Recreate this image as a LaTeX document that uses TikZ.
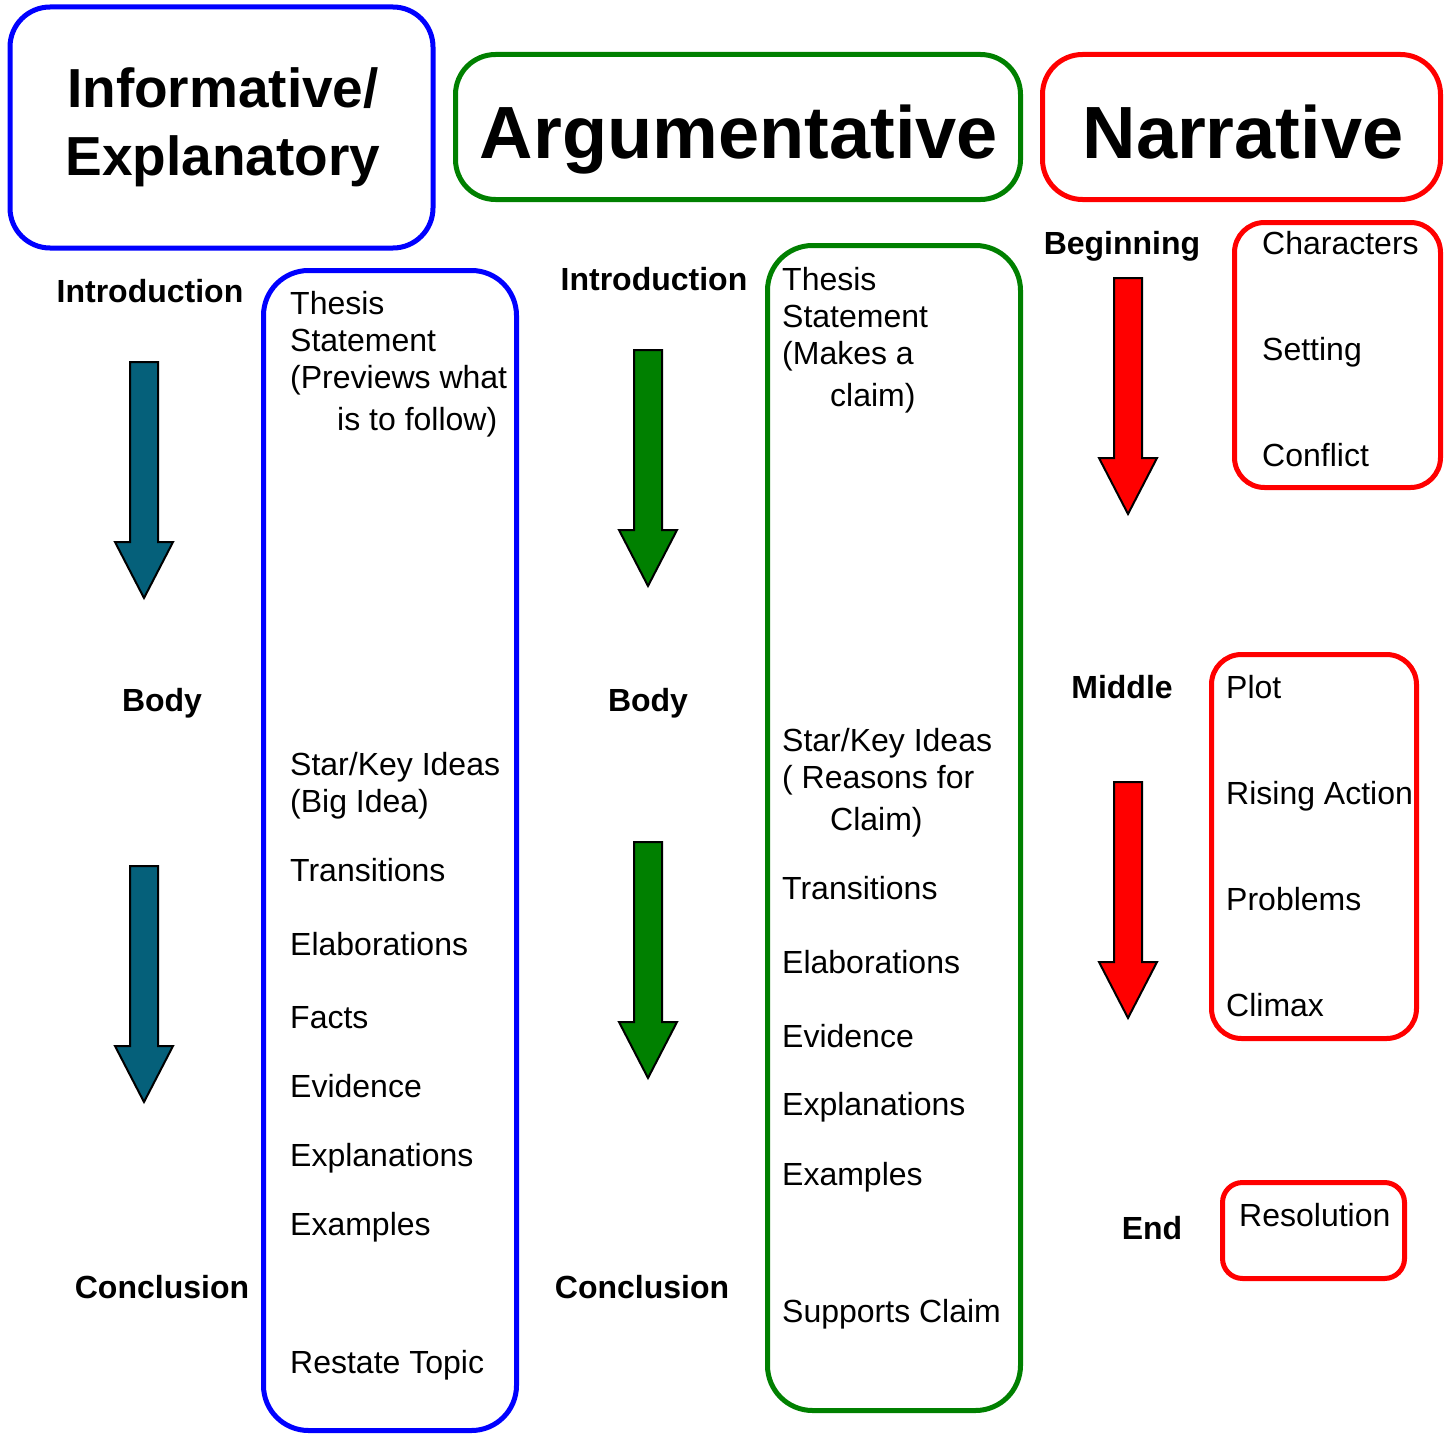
\documentclass[tikz,border=0pt]{standalone}
\usepackage{fontspec}
\setmainfont{Liberation Sans}
\usetikzlibrary{positioning}

\definecolor{infoblue}{RGB}{0,0,255}
\definecolor{arggreen}{RGB}{0,128,0}
\definecolor{narred}{RGB}{255,0,0}
\definecolor{arrowteal}{RGB}{5,96,122}

\tikzset{
  frame/.style={draw, line width=5pt, inner sep=0pt},
  title frame/.style={frame, rounded corners=40pt},
  column frame/.style={frame, rounded corners=45pt},
  group frame/.style={frame, rounded corners=30pt},
  heading/.style={font=\bfseries\fontsize{74}{86}\selectfont, anchor=base, inner sep=0pt},
  part/.style={font=\bfseries\fontsize{32}{37}\selectfont, anchor=base, inner sep=0pt},
  item/.style={font=\fontsize{32}{37}\selectfont, anchor=base west, align=left, inner sep=0pt},
  pics/blockarrow/.style={code={
    \draw[line width=2pt, fill=#1] (-14,0) -- (14,0) -- (14,180) -- (29,180)
      -- (0,236) -- (-29,180) -- (-14,180) -- cycle;
  }},
}

\begin{document}
\begin{tikzpicture}[x=1pt, y=-1pt]
\useasboundingbox (0,0) rectangle (1452,1437);

% headings (multi-line nodes sit on their last baseline)
\node[title frame, draw=infoblue, minimum width=423, minimum height=241] (infobox) at (221.5,127.5) {};
\node[heading, font=\bfseries\fontsize{55}{68}\selectfont, align=center] (infotitle) at (223,175) {Informative/\\Explanatory};
\node[title frame, draw=arggreen, minimum width=565, minimum height=145] (argbox) at (738,127) {};
\node[heading] (argtitle) at (739,158) {Argumentative};
\node[title frame, draw=narred, minimum width=398, minimum height=145] (narbox) at (1241.5,127) {};
\node[heading] (nartitle) at (1243,158) {Narrative};

% informative / explanatory
\node[part] (infointro) at (150,302) {Introduction};
\node[part] (infobody) at (162,711) {Body};
\node[part] (infoconcl) at (162,1298) {Conclusion};
\pic at (144,362) {blockarrow=arrowteal};
\pic at (144,866) {blockarrow=arrowteal};
\node[column frame, draw=infoblue, minimum width=253, minimum height=1160] (infocol) at (390,850.5) {};
\node[item] (infothesis) at (290,430) {Thesis\\Statement\\(Previews what\\[5pt]\hspace*{47pt}is to follow)};
\node[item] (infostar) at (290,812) {Star/Key Ideas\\(Big Idea)};
\node[item] (infotrans) at (290,881) {Transitions};
\node[item] (infoelab) at (290,955) {Elaborations};
\node[item] (infofacts) at (290,1028) {Facts};
\node[item] (infoevid) at (290,1097) {Evidence};
\node[item] (infoexpl) at (290,1166) {Explanations};
\node[item] (infoexam) at (290,1235) {Examples};
\node[item] (inforest) at (290,1373) {Restate Topic};

% argumentative
\node[part] (argintro) at (654,290) {Introduction};
\node[part] (argbody) at (648,711) {Body};
\node[part] (argconcl) at (642,1298) {Conclusion};
\pic at (648,350) {blockarrow=arggreen};
\pic at (648,842) {blockarrow=arggreen};
\node[column frame, draw=arggreen, minimum width=253, minimum height=1165] (argcol) at (894,828) {};
\node[item] (argthesis) at (782,406) {Thesis\\Statement\\(Makes a\\[5pt]\hspace*{48pt}claim)};
\node[item] (argstar) at (782,830) {Star/Key Ideas\\( Reasons for\\[5pt]\hspace*{48pt}Claim)};
\node[item] (argtrans) at (782,899) {Transitions};
\node[item] (argelab) at (782,973) {Elaborations};
\node[item] (argevid) at (782,1047) {Evidence};
\node[item] (argexpl) at (782,1115) {Explanations};
\node[item] (argexam) at (782,1185) {Examples};
\node[item] (argsupp) at (782,1322) {Supports Claim};

% narrative
\node[part] (narbegin) at (1122,254) {Beginning};
\node[part] (narmiddle) at (1122,698) {Middle};
\node[part] (narend) at (1152,1239) {End};
\pic at (1128,278) {blockarrow=narred};
\pic at (1128,782) {blockarrow=narred};
\node[group frame, draw=narred, minimum width=206, minimum height=265] (begingroup) at (1337.5,355) {};
\node[item] (narchar) at (1262,254) {Characters};
\node[item] (narsett) at (1262,360) {Setting};
\node[item] (narconf) at (1262,466) {Conflict};
\node[group frame, draw=narred, minimum width=205, minimum height=384] (middlegroup) at (1314,846.5) {};
\node[item] (narplot) at (1226,698) {Plot};
\node[item] (narrise) at (1226,804) {Rising Action};
\node[item] (narprob) at (1226,910) {Problems};
\node[item] (narclim) at (1226,1016) {Climax};
\node[group frame, draw=narred, rounded corners=20pt, minimum width=182, minimum height=96] (endgroup) at (1313.5,1230.5) {};
\node[item] (narreso) at (1239,1226) {Resolution};
\end{tikzpicture}
\end{document}
